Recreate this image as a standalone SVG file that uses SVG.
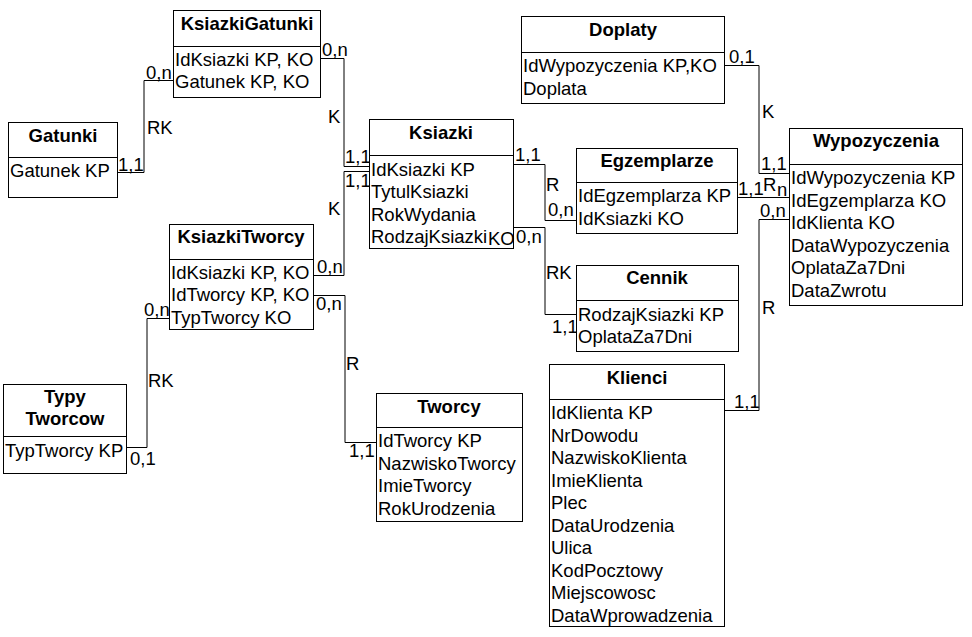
<svg xmlns="http://www.w3.org/2000/svg" width="972" height="637" viewBox="0 0 972 637">
<style>
text{font-family:"Liberation Sans",Arial,sans-serif;font-size:18.5px;fill:#000}
.t{font-weight:bold;text-anchor:middle}
.box{fill:#fff;stroke:#000;stroke-width:1}
.sep{stroke:#000;stroke-width:1}
.c{fill:none;stroke:#000;stroke-width:1}
</style>
<rect width="972" height="637" fill="#fff"/>
<g id="connectors">
<polyline class="c" points="117,172.5 144,172.5 144,80.5 173,80.5"/>
<polyline class="c" points="321,58.5 344,58.5 344,166.5 369,166.5"/>
<polyline class="c" points="369,171.5 344,171.5 344,275.5 313,275.5"/>
<polyline class="c" points="313,295.5 345,295.5 345,442.5 376,442.5"/>
<polyline class="c" points="127,447.5 147,447.5 147,318.5 169,318.5"/>
<polyline class="c" points="513,164.5 545,164.5 545,220.5 576,220.5"/>
<polyline class="c" points="513,227.5 545,227.5 545,314.5 576,314.5"/>
<polyline class="c" points="724,65.5 759,65.5 759,173.5 789,173.5"/>
<polyline class="c" points="738,197.5 789,197.5"/>
<polyline class="c" points="724,410.5 759,410.5 759,219.5 789,219.5"/>
<text x="146" y="79">0,n</text>
<text x="118" y="171">1,1</text>
<text x="147" y="134">RK</text>
<text x="322" y="56">0,n</text>
<text x="328" y="123">K</text>
<text x="345" y="163">1,1</text>
<text x="345" y="187">1,1</text>
<text x="328" y="215">K</text>
<text x="317" y="273">0,n</text>
<text x="316" y="310">0,n</text>
<text x="346" y="370">R</text>
<text x="349" y="457">1,1</text>
<text x="144" y="316">0,n</text>
<text x="148" y="387">RK</text>
<text x="130" y="465">0,1</text>
<text x="515" y="161">1,1</text>
<text x="546" y="191">R</text>
<text x="548" y="216">0,n</text>
<text x="516" y="243">0,n</text>
<text x="546" y="279">RK</text>
<text x="552" y="333">1,1</text>
<text x="729" y="63">0,1</text>
<text x="762" y="118">K</text>
<text x="761" y="170">1,1</text>
<text x="738" y="195">1,1</text>
<text x="763" y="191">R</text>
<text x="777" y="196">n</text>
<text x="760" y="217">0,n</text>
<text x="762" y="314">R</text>
<text x="734" y="408">1,1</text>
</g>
<g id="KsiazkiGatunki">
<rect class="box" x="173.5" y="10.5" width="147" height="87"/>
<line class="sep" x1="173.5" y1="46.5" x2="320.5" y2="46.5"/>
<text class="t" x="247" y="30">KsiazkiGatunki</text>
<text x="175" y="66">IdKsiazki KP, KO</text>
<text x="175" y="88">Gatunek KP, KO</text>
</g>
<g id="Gatunki">
<rect class="box" x="8.5" y="122.5" width="109" height="75"/>
<line class="sep" x1="8.5" y1="157.5" x2="117.5" y2="157.5"/>
<text class="t" x="63" y="142">Gatunki</text>
<text x="10" y="177">Gatunek KP</text>
</g>
<g id="Ksiazki">
<rect class="box" x="369.5" y="119.5" width="144" height="129"/>
<line class="sep" x1="369.5" y1="155.5" x2="513.5" y2="155.5"/>
<text class="t" x="441" y="139">Ksiazki</text>
<text x="371" y="175.5">IdKsiazki KP</text>
<text x="371" y="198">TytulKsiazki</text>
<text x="371" y="220.5">RokWydania</text>
<text x="371" y="243">RodzajKsiazki<tspan x="488" y="245">KO</tspan></text>
</g>
<g id="KsiazkiTworcy">
<rect class="box" x="169.5" y="224.5" width="144" height="105"/>
<line class="sep" x1="169.5" y1="259.5" x2="313.5" y2="259.5"/>
<text class="t" x="241" y="243">KsiazkiTworcy</text>
<text x="171" y="278.5">IdKsiazki KP, KO</text>
<text x="171" y="301">IdTworcy KP, KO</text>
<text x="171" y="323.5">TypTworcy KO</text>
</g>
<g id="TypyTworcow">
<rect class="box" x="3.5" y="384.5" width="123" height="89"/>
<line class="sep" x1="3.5" y1="436.5" x2="126.5" y2="436.5"/>
<text class="t" x="65" y="403">Typy</text>
<text class="t" x="65" y="425">Tworcow</text>
<text x="5" y="457">TypTworcy KP</text>
</g>
<g id="Tworcy">
<rect class="box" x="376.5" y="393.5" width="146" height="128"/>
<line class="sep" x1="376.5" y1="427.5" x2="522.5" y2="427.5"/>
<text class="t" x="449" y="413">Tworcy</text>
<text x="378" y="447">IdTworcy KP</text>
<text x="378" y="469.5">NazwiskoTworcy</text>
<text x="378" y="492">ImieTworcy</text>
<text x="378" y="514.5">RokUrodzenia</text>
</g>
<g id="Doplaty">
<rect class="box" x="521.5" y="16.5" width="203" height="87"/>
<line class="sep" x1="521.5" y1="52.5" x2="724.5" y2="52.5"/>
<text class="t" x="623" y="36">Doplaty</text>
<text x="523" y="72">IdWypozyczenia KP,KO</text>
<text x="523" y="94.5">Doplata</text>
</g>
<g id="Egzemplarze">
<rect class="box" x="576.5" y="148.5" width="161" height="85"/>
<line class="sep" x1="576.5" y1="182.5" x2="737.5" y2="182.5"/>
<text class="t" x="657" y="167">Egzemplarze</text>
<text x="578" y="202">IdEgzemplarza KP</text>
<text x="578" y="224.5">IdKsiazki KO</text>
</g>
<g id="Wypozyczenia">
<rect class="box" x="789.5" y="128.5" width="173" height="177"/>
<line class="sep" x1="789.5" y1="164.5" x2="962.5" y2="164.5"/>
<text class="t" x="876" y="147">Wypozyczenia</text>
<text x="791" y="184">IdWypozyczenia KP</text>
<text x="791" y="206.5">IdEgzemplarza KO</text>
<text x="791" y="229">IdKlienta KO</text>
<text x="791" y="251.5">DataWypozyczenia</text>
<text x="791" y="274">OplataZa7Dni</text>
<text x="791" y="296.5">DataZwrotu</text>
</g>
<g id="Cennik">
<rect class="box" x="576.5" y="265.5" width="162" height="86"/>
<line class="sep" x1="576.5" y1="300.5" x2="738.5" y2="300.5"/>
<text class="t" x="657" y="284">Cennik</text>
<text x="578" y="320.5">RodzajKsiazki KP</text>
<text x="578" y="343">OplataZa7Dni</text>
</g>
<g id="Klienci">
<rect class="box" x="549.5" y="364.5" width="175" height="262"/>
<line class="sep" x1="549.5" y1="399.5" x2="724.5" y2="399.5"/>
<text class="t" x="637" y="384">Klienci</text>
<text x="551" y="419">IdKlienta KP</text>
<text x="551" y="441.5">NrDowodu</text>
<text x="551" y="464">NazwiskoKlienta</text>
<text x="551" y="486.5">ImieKlienta</text>
<text x="551" y="509">Plec</text>
<text x="551" y="531.5">DataUrodzenia</text>
<text x="551" y="554">Ulica</text>
<text x="551" y="576.5">KodPocztowy</text>
<text x="551" y="599">Miejscowosc</text>
<text x="551" y="621.5">DataWprowadzenia</text>
</g>
</svg>
